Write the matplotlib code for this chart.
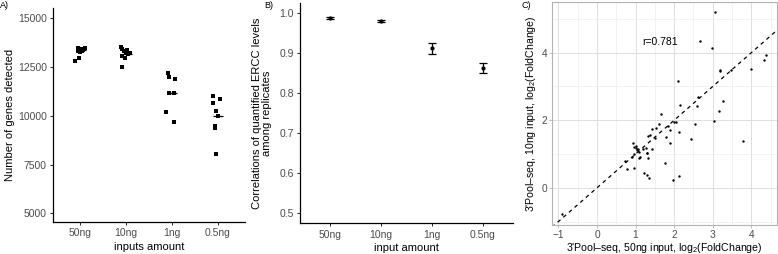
import matplotlib
matplotlib.use("Agg")
import matplotlib.pyplot as plt
import numpy as np

plt.rcParams['font.family'] = ['Liberation Sans', 'DejaVu Sans']
plt.rcParams['mathtext.fontset'] = 'custom'
plt.rcParams['mathtext.rm'] = 'Liberation Sans'

inputs = ['50ng', '10ng', '1ng', '0.5ng']

# panel A: genes detected per replicate (jitter offset, value)
genes_50 = [12790, 12980, 13300, 13480, 13420, 13380, 13460, 13250, 13330, 13420]
jit_50 = [-0.12, -0.04, -0.06, -0.05, 0.0, 0.05, 0.1, -0.02, 0.03, 0.08]
genes_10 = [13550, 13400, 13300, 13250, 13180, 13080, 12980, 12500, 13350, 13200]
jit_10 = [-0.12, -0.1, -0.05, 0.0, 0.05, -0.08, -0.03, -0.08, 0.02, 0.08]
genes_1 = [12200, 11970, 11880, 11190, 11190, 10210, 9680]
jit_1 = [-0.09, -0.07, 0.07, -0.06, 0.05, -0.12, 0.05]
genes_05 = [11010, 10860, 10680, 10250, 10000, 9480, 9360, 8030]
jit_05 = [-0.11, 0.06, -0.11, -0.04, 0.0, -0.05, -0.05, -0.04]
genes_median = [13360, 13170, 11190, 10000]

# panel B: ERCC correlations
corr_mean = [0.9875, 0.981, 0.9125, 0.864]
corr_err = [0.003, 0.003, 0.0145, 0.0125]

# panel C: log2 fold changes
fc_50 = [-0.9, 3.06, 2.66, 2.97, 4.37, 4.34, 3.19, 3.19, 3.48, 4.0,
         2.11, 2.63, 2.14, 2.59, 3.26, 3.15, 1.66, 3.03, 2.05, 1.43,
         1.54, 1.62, 1.85, 2.54, 2.12, 1.37, 1.32, 1.9, 1.99, 2.44,
         0.93, 0.97, 1.0, 1.03, 1.06, 1.08, 1.11, 1.19, 1.26, 1.30,
         1.32, 1.43, 1.29, 1.78, 1.88, 0.9, 0.79, 0.97, 0.72, 1.08,
         1.75, 1.22, 1.29, 1.34, 1.97, 2.12, 3.78, 1.5, 1.02, 0.95]
fc_10 = [-0.78, 5.21, 4.36, 4.14, 3.93, 3.78, 3.50, 3.46, 3.48, 3.53,
         3.17, 2.68, 2.46, 2.41, 2.56, 2.26, 2.19, 1.97, 1.96, 1.75,
         1.77, 1.88, 1.84, 1.88, 1.65, 1.55, 1.52, 1.70, 1.96, 1.44,
         1.34, 1.22, 1.18, 1.12, 1.15, 1.07, 0.90, 1.14, 1.19, 1.02,
         0.88, 1.16, 1.04, 1.49, 1.34, 0.92, 0.57, 0.60, 0.80, 0.88,
         0.73, 0.45, 0.38, 0.28, 0.24, 0.35, 1.39, 1.47, 1.25, 1.0]

W, H = 778, 254
fig = plt.figure(figsize=(W / 100, H / 100), dpi=100)

def box(l, t, r, b):
    return [l / W, 1 - b / H, (r - l) / W, (b - t) / H]

tick_col = '#4d4d4d'
fs_tick = 7.5
fs_lab = 8

def classic(ax):
    for s in ['top', 'right']:
        ax.spines[s].set_visible(False)
    for s in ['left', 'bottom']:
        ax.spines[s].set_linewidth(0.9)
    ax.tick_params(colors='black', labelcolor=tick_col, labelsize=fs_tick,
                   length=2.5, width=0.6, pad=2)

# ---- A
ax = fig.add_axes(box(53, 8.3, 245, 221.7))
classic(ax)
groups = [(genes_50, jit_50), (genes_10, jit_10), (genes_1, jit_1), (genes_05, jit_05)]
for i, (vals, jit) in enumerate(groups):
    ax.scatter(np.array(jit) + i + 1, vals, marker='s', s=12, color='black', lw=0)
    ax.hlines(genes_median[i], i + 1 - 0.1, i + 1 + 0.12, color='black', lw=0.9)
ax.set_xlim(0.4, 4.6)
ax.set_ylim(4575, 15510)
ax.set_xticks([1, 2, 3, 4])
ax.set_xticklabels(inputs)
ax.set_yticks([5000, 7500, 10000, 12500, 15000])
ax.set_xlabel('inputs amount', fontsize=fs_lab)
ax.xaxis.set_label_coords(0.5, -0.095)
ax.set_ylabel('Number of genes detected', fontsize=fs_lab)
ax.yaxis.set_label_coords(-0.2, 0.5)
fig.text(0 / W, 1 - 5 / H, 'A)', fontsize=6.5, va='center', ha='left')

# ---- B
ax = fig.add_axes(box(300, 3.3, 513, 223.3))
classic(ax)
ax.errorbar([1, 2, 3, 4], corr_mean, yerr=corr_err, fmt='o', ms=2, color='black',
            ecolor='black', elinewidth=0.9, capsize=3, capthick=0.9)
ax.set_xlim(0.4, 4.6)
ax.set_ylim(0.475, 1.025)
ax.set_xticks([1, 2, 3, 4])
ax.set_xticklabels(inputs)
ax.set_yticks([0.5, 0.6, 0.7, 0.8, 0.9, 1.0])
ax.set_xlabel('input amount', fontsize=fs_lab)
ax.xaxis.set_label_coords(0.5, -0.088)
ax.set_ylabel('Correlations of quantified ERCC levels\namong replicates', fontsize=fs_lab,
              linespacing=1.0)
ax.yaxis.set_label_coords(-0.13, 0.5)
fig.text(264 / W, 1 - 5 / H, 'B)', fontsize=6.5, va='center', ha='left')

# ---- C
ax = fig.add_axes(box(552, 2, 777, 225))
for s in ax.spines.values():
    s.set_color('#b3b3b3')
    s.set_linewidth(0.8)
ax.set_xlim(-1.165, 4.665)
ax.set_ylim(-1.1, 5.5)
ax.set_xticks([-1, 0, 1, 2, 3, 4])
ax.set_yticks([0, 2, 4])
ax.set_xticks(np.arange(-0.5, 4.6, 1), minor=True)
ax.set_yticks([-1, 1, 3, 5], minor=True)
ax.grid(True, which='major', color='#dedede', lw=0.7)
ax.grid(True, which='minor', color='#ebebeb', lw=0.45)
ax.set_axisbelow(True)
ax.tick_params(which='major', colors='#b3b3b3', labelcolor=tick_col, labelsize=7.3,
               length=2.5, width=0.6, pad=1)
ax.tick_params(which='minor', length=0)
ax.plot([-1.165, 4.665], [-1.165, 4.665], ls=(0, (3, 3)), color='black', lw=0.9)
ax.scatter(fc_50, fc_10, s=3, color='black', lw=0)
ax.text(1.64, 4.33, 'r=0.781', fontsize=7.5, ha='center', va='center')
ax.set_xlabel("3'Pool\u2013seq, 50ng input, log$_2$(FoldChange)", fontsize=7.6, va='baseline')
ax.xaxis.set_label_coords(0.5, -0.117)
ax.set_ylabel("3'Pool\u2013seq, 10ng input, log$_2$(FoldChange)", fontsize=7.6)
ax.yaxis.set_label_coords(-0.06, 0.5)
fig.text(521 / W, 1 - 5 / H, 'C)', fontsize=6.5, va='center', ha='left')

fig.savefig('out.png', dpi=100)
